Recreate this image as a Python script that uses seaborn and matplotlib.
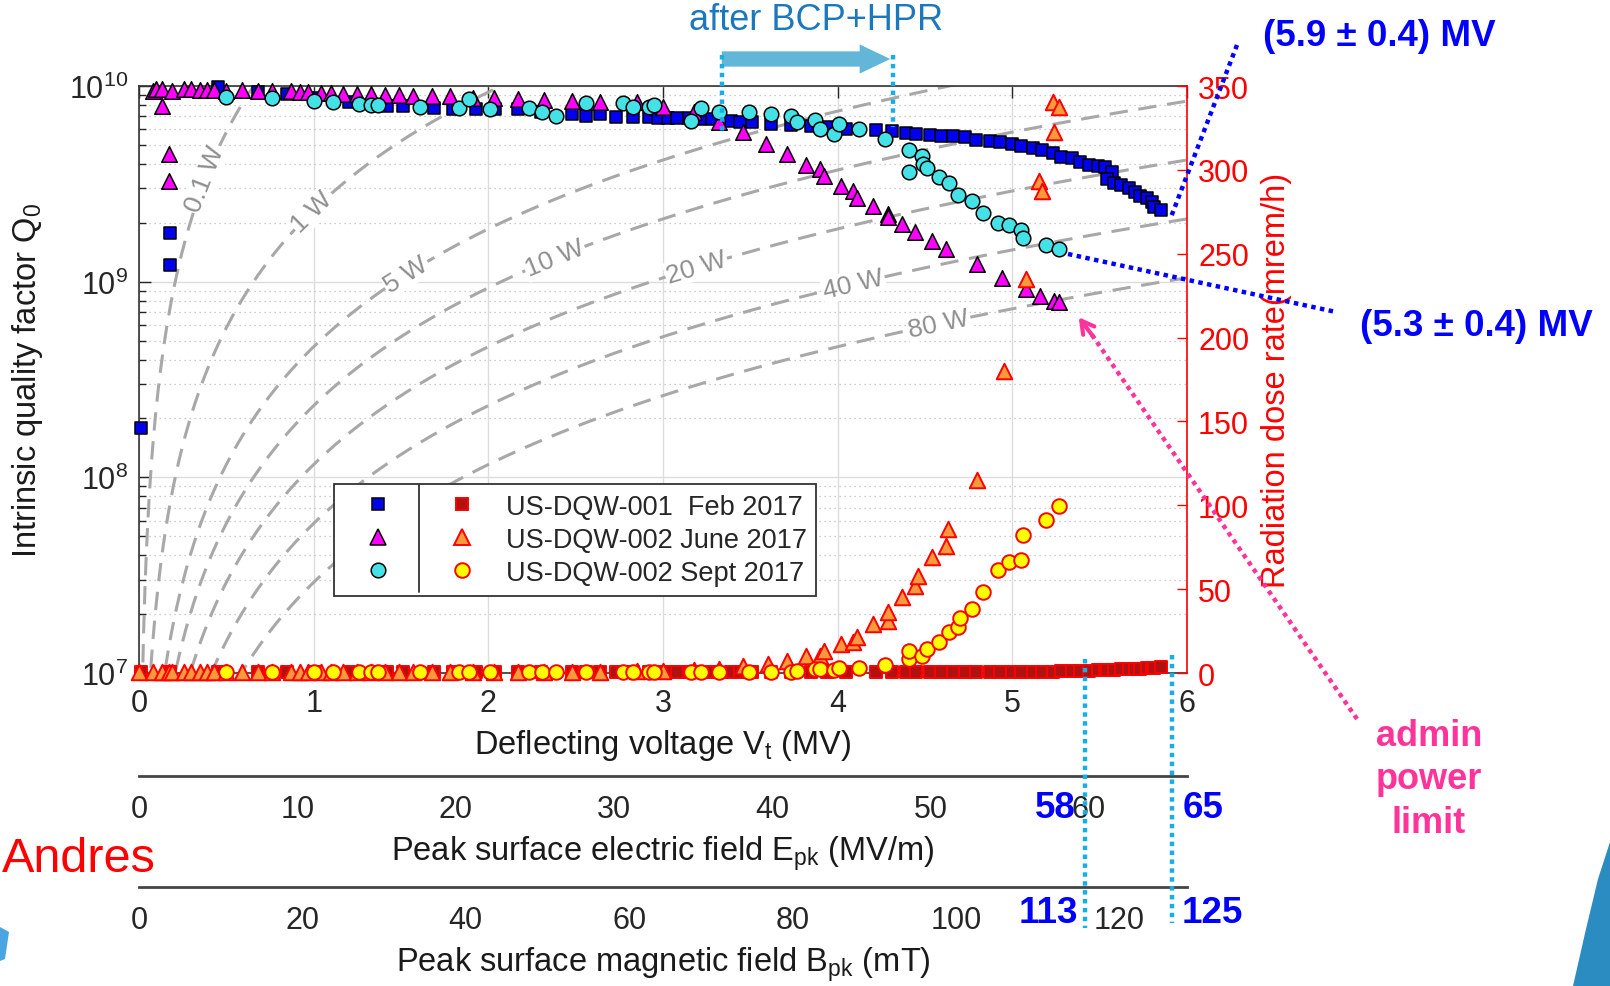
import numpy as np
import matplotlib
matplotlib.use("Agg")
import matplotlib.pyplot as plt
from matplotlib.lines import Line2D
from matplotlib.patches import FancyArrowPatch, Polygon
from matplotlib.ticker import LogLocator, NullFormatter
import seaborn as sns

sns.set_style("white")
plt.rcParams['font.family'] = ['Liberation Sans', 'DejaVu Sans']
plt.rcParams['mathtext.fontset'] = 'custom'
plt.rcParams['mathtext.rm'] = 'Liberation Sans'
plt.rcParams['mathtext.it'] = 'Liberation Sans:italic'
plt.rcParams['mathtext.default'] = 'regular'

# ---- data ----
# US-DQW-001 Feb 2017 : deflecting voltage (MV), Q0 (x1e9), dose rate (mrem/h)
feb_v = [0.01, 0.18, 0.18, 0.45, 0.68, 0.85, 1.00, 1.20, 1.42, 1.51, 1.69, 1.80,
         1.93, 2.04, 2.17, 2.30, 2.48, 2.56, 2.64, 2.73, 2.83, 2.92, 2.97, 3.03,
         3.08, 3.15, 3.21, 3.28, 3.39, 3.44, 3.51, 3.62, 3.73, 3.85, 3.94, 4.05,
         4.22, 4.31, 4.39, 4.45, 4.53, 4.59, 4.66, 4.73, 4.79, 4.87, 4.93, 5.00,
         5.05, 5.12, 5.17, 5.23, 5.28, 5.34, 5.39, 5.44, 5.49, 5.53, 5.57, 5.54,
         5.58, 5.62, 5.67, 5.70, 5.73, 5.77, 5.80, 5.81, 5.85]
feb_q0 = [0.178, 1.22, 1.77, 9.85, 9.29, 9.10, 8.70, 8.30, 7.93, 7.93, 7.70, 7.63,
          7.63, 7.63, 7.60, 7.40, 7.20, 7.05, 7.20, 6.92, 6.92, 6.92, 6.84, 6.84,
          6.84, 6.84, 6.78, 6.78, 6.65, 6.57, 6.52, 6.39, 6.31, 6.27, 6.15, 6.03,
          5.98, 5.91, 5.75, 5.68, 5.61, 5.57, 5.53, 5.47, 5.31, 5.25, 5.15, 5.05,
          4.92, 4.80, 4.72, 4.54, 4.36, 4.31, 4.07, 3.94, 3.91, 3.84, 3.62, 3.34,
          3.21, 3.12, 3.00, 2.86, 2.75, 2.67, 2.54, 2.40, 2.33]
feb_dose = [0.3, 0.3, 0.3, 0.3, 0.3, 0.3, 0.3, 0.3, 0.3, 0.3, 0.3, 0.3,
            0.3, 0.3, 0.3, 0.3, 0.3, 0.3, 0.3, 0.3, 0.3, 0.3, 0.3, 0.3,
            0.3, 0.3, 0.3, 0.3, 0.3, 0.3, 0.3, 0.3, 0.3, 0.3, 0.3, 0.3,
            0.3, 0.3, 0.3, 0.3, 0.3, 0.4, 0.4, 0.4, 0.4, 0.5, 0.5, 0.5,
            0.6, 0.6, 0.7, 0.8, 0.9, 1.0, 1.4, 1.4, 1.6, 1.8, 2.0, 1.8,
            2.0, 2.2, 2.3, 2.5, 2.6, 2.8, 2.8, 3.0, 3.4]

# US-DQW-002 June 2017
jun_v = [0.08, 0.10, 0.13, 0.13, 0.17, 0.17, 0.19, 0.26, 0.30, 0.35, 0.39, 0.43,
         0.50, 0.59, 0.68, 0.76, 0.87, 0.92, 0.97, 1.04, 1.10, 1.17, 1.25, 1.33,
         1.41, 1.49, 1.57, 1.68, 1.78, 1.91, 2.03, 2.17, 2.32, 2.48, 2.64, 2.85,
         3.00, 3.18, 3.32, 3.46, 3.59, 3.71, 3.82, 3.90, 3.92, 4.02, 4.09, 4.11,
         4.20, 4.29, 4.29, 4.37, 4.44, 4.54, 4.62, 4.80, 4.94, 5.08, 5.16, 5.24, 5.27]
jun_q0 = [9.46, 9.66, 9.66, 7.93, 4.49, 3.28, 9.46, 9.66, 9.66, 9.58, 9.58, 9.58,
          9.46, 9.58, 9.40, 9.40, 9.40, 9.29, 9.29, 9.21, 9.21, 9.10, 9.10, 9.10,
          9.00, 9.00, 8.92, 8.85, 8.85, 8.68, 8.68, 8.58, 8.51, 8.40, 8.25, 8.30,
          7.78, 7.33, 6.52, 5.79, 5.05, 4.49, 3.94, 3.76, 3.47, 3.09, 2.91, 2.69,
          2.44, 2.21, 2.13, 1.97, 1.79, 1.62, 1.47, 1.23, 1.05, 0.916, 0.846, 0.798, 0.783]
jun_dose_v = [0.00, 0.08, 0.13, 0.17, 0.19, 0.26, 0.30, 0.35, 0.39, 0.43, 0.50, 0.59,
              0.68, 0.76, 0.87, 0.92, 0.97, 1.04, 1.10, 1.17, 1.25, 1.33, 1.41, 1.49,
              1.57, 1.68, 1.78, 1.91, 2.03, 2.17, 2.32, 2.48, 2.64, 2.85, 3.00, 3.18,
              3.32, 3.46, 3.60, 3.71, 3.82, 3.90, 3.92, 4.02, 4.09, 4.11, 4.20, 4.29,
              4.29, 4.37, 4.44, 4.46, 4.54, 4.62, 4.63, 4.80, 4.95, 5.08, 5.15, 5.17,
              5.24, 5.23, 5.27]
jun_dose = [0.5, 0.5, 0.5, 0.5, 0.5, 0.5, 0.5, 0.5, 0.5, 0.5, 0.5, 0.5,
            0.5, 0.5, 0.5, 0.5, 0.5, 0.5, 0.5, 0.5, 0.5, 0.5, 0.5, 0.5,
            0.5, 0.5, 0.5, 0.5, 0.5, 0.5, 0.5, 0.5, 0.8, 1.0, 1.2, 1.5,
            2.5, 4.4, 5.4, 7.3, 10.3, 10.3, 13.3, 17.3, 18.3, 21.3, 29.2, 31.2,
            36.2, 45.1, 52.1, 58.0, 69.0, 75.9, 85.9, 115.3, 180.0, 235.0, 293.5, 287.6,
            322.4, 340.6, 337.3]

# US-DQW-002 Sept 2017
sep_v = [0.50, 0.76, 1.00, 1.11, 1.26, 1.33, 1.37, 1.61, 1.83, 1.89, 2.01, 2.23,
         2.31, 2.39, 2.56, 2.77, 2.83, 2.92, 2.95, 3.16, 3.22, 3.32, 3.49, 3.62,
         3.73, 3.77, 3.87, 3.90, 3.98, 4.01, 4.12, 4.27, 4.41, 4.48, 4.49, 4.41,
         4.51, 4.58, 4.64, 4.69, 4.77, 4.83, 4.92, 4.98, 5.05, 5.06, 5.19, 5.27]
sep_q0 = [8.75, 8.65, 8.41, 8.32, 8.10, 8.00, 8.00, 7.78, 7.70, 8.58, 7.63, 7.70,
          7.39, 7.00, 8.19, 8.15, 7.78, 7.78, 8.00, 6.65, 7.70, 7.39, 7.39, 7.19,
          7.00, 6.52, 6.73, 6.03, 5.68, 6.39, 6.03, 5.39, 4.72, 4.41, 3.99, 3.65,
          3.80, 3.41, 3.19, 2.77, 2.59, 2.24, 1.99, 1.95, 1.84, 1.68, 1.54, 1.47]
sep_dose_v = [0.50, 0.76, 1.00, 1.11, 1.26, 1.33, 1.37, 1.61, 1.83, 1.89, 2.01, 2.23,
              2.31, 2.39, 2.56, 2.77, 2.83, 2.92, 2.95, 3.16, 3.22, 3.32, 3.49, 3.62,
              3.73, 3.77, 3.87, 3.90, 3.98, 4.01, 4.12, 4.27, 4.41, 4.41, 4.48, 4.51,
              4.58, 4.64, 4.69, 4.70, 4.77, 4.83, 4.92, 4.98, 5.05, 5.06, 5.19, 5.27]
sep_dose = [0.5, 0.5, 0.5, 0.5, 0.5, 0.5, 0.5, 0.5, 0.5, 0.5, 0.5, 0.5,
            0.5, 0.5, 0.5, 0.5, 0.5, 0.5, 0.5, 0.5, 0.5, 0.5, 0.5, 0.5,
            0.4, 1.4, 2.3, 2.3, 2.0, 2.8, 2.8, 4.8, 8.3, 13.3, 10.3, 14.3,
            18.3, 24.6, 27.2, 32.6, 38.2, 48.1, 61.6, 66.0, 67.6, 82.3, 91.4, 99.4]

# iso-power guide lines Q0 = V^2 / ((R/Q) P)
r_over_q = 430.0
power_w = [0.1, 1, 5, 10, 20, 40, 80]
power_labels = ['0.1 W', '1 W', '5 W', '10 W', '20 W', '40 W', '80 W']
power_label_v = [0.38, 0.99, 1.53, 2.38, 3.19, 4.09, 4.58]

vt_ticks = [0, 1, 2, 3, 4, 5, 6]
dose_ticks = [0, 50, 100, 150, 200, 250, 300, 350]
epk_ticks = [0, 10, 20, 30, 40, 50, 60]
bpk_ticks = [0, 20, 40, 60, 80, 100, 120]
epk_max = 66.2
bpk_max = 128.3

# ---- figure ----
W, H = 1610, 987
fig = plt.figure(figsize=(W / 100, H / 100), dpi=100)


def fx(px):
    return px / W


def fy(py):
    return 1 - py / H


TICK_FS = 22
LABEL_FS = 23.5

AX_L, AX_R, AX_T, AX_B = 139, 1187, 87, 674
ax = fig.add_axes([fx(AX_L), fy(AX_B), fx(AX_R) - fx(AX_L), fy(AX_T) - fy(AX_B)])
ax.set_yscale('log')
ax.set_xlim(0, 6)
ax.set_ylim(1e7, 1e10)
ax.set_xticks(vt_ticks)
ax.yaxis.set_minor_locator(LogLocator(base=10, subs=np.arange(2, 10)))
ax.yaxis.set_minor_formatter(NullFormatter())
ax.set_axisbelow(True)
ax.grid(True, which='major', color='#dcdcdc', lw=1.0, ls='-')
ax.grid(True, which='minor', axis='y', color='#bdbdbd', lw=0.9, ls=(0, (1, 3)))

# power lines
v_curve = np.linspace(0.004, 6, 800)
for p, lab, vl in zip(power_w, power_labels, power_label_v):
    q = (v_curve * 1e6) ** 2 / (r_over_q * p)
    ax.plot(v_curve, q, color='#a8a8a8', lw=2.2, dashes=(6, 3.5), zorder=1)
    ql = (vl * 1e6) ** 2 / (r_over_q * p)
    a = ax.transData.transform((vl - 0.02, ((vl - 0.02) * 1e6) ** 2 / (r_over_q * p)))
    b = ax.transData.transform((vl + 0.02, ((vl + 0.02) * 1e6) ** 2 / (r_over_q * p)))
    ang = np.degrees(np.arctan2(b[1] - a[1], b[0] - a[0]))
    ax.text(vl, ql, lab, fontsize=19, color='#8f8f8f', rotation=ang,
            rotation_mode='anchor', ha='center', va='center', zorder=1.5,
            bbox=dict(facecolor='white', edgecolor='none', pad=1.0))

# Q0 series
sns.scatterplot(x=feb_v, y=np.array(feb_q0) * 1e9, ax=ax, marker='s', s=72,
                color='#0000f0', edgecolor='black', linewidth=1.1, zorder=3,
                clip_on=False, legend=False)
sns.scatterplot(x=jun_v, y=np.array(jun_q0) * 1e9, ax=ax, marker='^', s=125,
                color='#ff00ff', edgecolor='black', linewidth=1.1, zorder=3,
                clip_on=False, legend=False)
sns.scatterplot(x=sep_v, y=np.array(sep_q0) * 1e9, ax=ax, marker='o', s=110,
                color='#44e2e6', edgecolor='black', linewidth=1.1, zorder=3,
                clip_on=False, legend=False)

ax.tick_params(axis='both', which='both', direction='in', top=True, right=True,
               colors='#262626', labelsize=TICK_FS)
ax.tick_params(which='major', length=8.5, width=1)
ax.tick_params(which='minor', length=5, width=1)
ax.tick_params(axis='x', which='minor', bottom=False, top=False)
ax.tick_params(axis='x', pad=11)
ax.tick_params(axis='y', pad=8)
for s in ['left', 'top', 'bottom']:
    ax.spines[s].set_color('#333333')
    ax.spines[s].set_linewidth(1.2)
ax.spines['right'].set_visible(False)
ax.set_xlabel('Deflecting voltage V$_t$ (MV)', fontsize=LABEL_FS, color='#1a1a1a', labelpad=6)
ax.set_ylabel('Intrinsic quality factor Q$_0$', fontsize=LABEL_FS, color='#1a1a1a')
ax.yaxis.set_label_coords(-0.09, 0.5)

# dose axis
ax2 = ax.twinx()
ax2.set_ylim(0, 350)
ax2.set_yticks(dose_ticks)
for s in ['left', 'top', 'bottom']:
    ax2.spines[s].set_visible(False)
ax2.spines['right'].set_color('#ff0000')
ax2.spines['right'].set_linewidth(1.2)
ax2.tick_params(axis='y', colors='#ff0000', direction='in', length=7, width=1,
                labelsize=TICK_FS, pad=8)
ax2.set_ylabel('Radiation dose rate(mrem/h)', fontsize=LABEL_FS, color='#ff0000')
ax2.yaxis.set_label_coords(1.071, 0.5)

sns.scatterplot(x=feb_v, y=feb_dose, ax=ax2, marker='s', s=72,
                color='#b01212', edgecolor='#ff0000', linewidth=1.4, zorder=3,
                clip_on=False, legend=False)
sns.scatterplot(x=jun_dose_v, y=jun_dose, ax=ax2, marker='^', s=125,
                color='#fb9a3c', edgecolor='#ff0000', linewidth=1.4, zorder=3,
                clip_on=False, legend=False)
sns.scatterplot(x=sep_dose_v, y=sep_dose, ax=ax2, marker='o', s=110,
                color='#ffff00', edgecolor='#ff0000', linewidth=1.4, zorder=3,
                clip_on=False, legend=False)

# legend: left column Q0, right column dose rate
h = [Line2D([], [], ls='none', marker='s', ms=8.5, mfc='#0000f0', mec='black', mew=1.1),
     Line2D([], [], ls='none', marker='^', ms=11, mfc='#ff00ff', mec='black', mew=1.1),
     Line2D([], [], ls='none', marker='o', ms=10.5, mfc='#44e2e6', mec='black', mew=1.1),
     Line2D([], [], ls='none', marker='s', ms=8.5, mfc='#b01212', mec='#ff0000', mew=1.4),
     Line2D([], [], ls='none', marker='^', ms=11, mfc='#fb9a3c', mec='#ff0000', mew=1.4),
     Line2D([], [], ls='none', marker='o', ms=10.5, mfc='#ffff00', mec='#ff0000', mew=1.4)]
labels = ['', '', '', 'US-DQW-001  Feb 2017', 'US-DQW-002 June 2017', 'US-DQW-002 Sept 2017']
leg = ax2.legend(handles=h, labels=labels, ncol=2, loc='upper left',
                 bbox_to_anchor=((334 - AX_L) / (AX_R - AX_L), (AX_B - 485) / (AX_B - AX_T)),
                 borderaxespad=0, fontsize=19.5, frameon=True, fancybox=False,
                 framealpha=1, edgecolor='#333333', handlelength=2.5,
                 handletextpad=0.35, columnspacing=0.28, labelspacing=0.26,
                 borderpad=0.36)
leg.get_frame().set_linewidth(1.3)
fig.add_artist(Line2D([fx(419), fx(419)], [fy(486), fy(593)], transform=fig.transFigure,
                      color='#333333', lw=1.3, zorder=10))


# extra field axes under the plot
def field_axis(y_line, xmax, ticks, label):
    a = fig.add_axes([fx(AX_L), fy(y_line), fx(AX_R) - fx(AX_L), 1e-4])
    a.set_xlim(0, xmax)
    a.set_xticks(ticks)
    a.set_yticks([])
    a.patch.set_visible(False)
    for s in ['left', 'right', 'top']:
        a.spines[s].set_visible(False)
    a.spines['bottom'].set_color('#444444')
    a.spines['bottom'].set_linewidth(2)
    a.tick_params(axis='x', direction='in', length=8, width=1, labelsize=TICK_FS,
                  pad=13, colors='#262626')
    a.set_xlabel(label, fontsize=LABEL_FS, color='#1a1a1a', labelpad=7)
    return a


field_axis(777, epk_max, epk_ticks, 'Peak surface electric field E$_{pk}$ (MV/m)')
field_axis(888, bpk_max, bpk_ticks, 'Peak surface magnetic field B$_{pk}$ (mT)')


# ---- annotations ----
def fline(xs, ys, **kw):
    fig.add_artist(Line2D([fx(x) for x in xs], [fy(y) for y in ys],
                          transform=fig.transFigure, **kw))


dot = dict(ls=(0, (1, 1)), lw=3.2, zorder=12, solid_capstyle='butt')
cyan = '#17aee8'
fline([722, 722], [56, 133], color=cyan, **dot)
fline([893, 893], [56, 128], color=cyan, **dot)
fline([1085, 1085], [660, 929], color=cyan, **dot)
fline([1172, 1172], [656, 924], color=cyan, **dot)
fline([1237, 1171], [46, 218], color='#0000ff', **dot)
fline([1068, 1336], [255, 313], color='#0000ff', **dot)

pink = '#ff3399'
fline([1357, 1090], [720, 333], color=pink, **dot)
fig.add_artist(FancyArrowPatch((fx(1095), fy(340)), (fx(1077), fy(316)),
                               transform=fig.transFigure, color=pink, lw=3,
                               arrowstyle='->,head_length=9,head_width=5',
                               mutation_scale=1, zorder=12))

fig.add_artist(FancyArrowPatch((fx(719), fy(60)), (fx(893), fy(60)),
                               transform=fig.transFigure, color='#62b6d8', lw=0,
                               arrowstyle='simple,head_length=22,head_width=21,tail_width=11',
                               mutation_scale=1, zorder=11))
fig.text(fx(816), fy(21), 'after BCP+HPR', fontsize=26, color='#1b78bd',
         ha='center', va='center')

bold_blue = dict(fontsize=26.5, fontweight='bold', color='#0000ff', va='center')
fig.text(fx(1263), fy(36), '(5.9 ± 0.4) MV', ha='left', **bold_blue)
fig.text(fx(1360), fy(326), '(5.3 ± 0.4) MV', ha='left', **bold_blue)
fig.text(fx(1055), fy(809), '58', ha='center', zorder=13, **bold_blue)
fig.text(fx(1203), fy(809), '65', ha='center', **bold_blue)
fig.text(fx(1048), fy(914), '113', ha='center', **bold_blue)
fig.text(fx(1212), fy(914), '125', ha='center', **bold_blue)

for txt, yy in zip(['admin', 'power', 'limit'], [736, 780, 824]):
    fig.text(fx(1429), fy(yy), txt, fontsize=26, fontweight='bold', color=pink,
             ha='center', va='center')

fig.text(fx(156), fy(860), 'Andres', fontsize=35, color='#ff0000', ha='right', va='center')

# slide decorations
fig.add_artist(Polygon([(fx(1610), fy(843)), (fx(1598), fy(880)), (fx(1586), fy(930)),
                        (fx(1573), fy(987)), (fx(1610), fy(987))], closed=True,
                       transform=fig.transFigure, facecolor='#2a8cc0', edgecolor='none'))
fig.add_artist(Polygon([(fx(0), fy(928)), (fx(9), fy(933)), (fx(5), fy(960)), (fx(0), fy(962))],
                       closed=True, transform=fig.transFigure, facecolor='#49a6e0',
                       edgecolor='none'))

fig.savefig('out.png', dpi=100, facecolor='white')
